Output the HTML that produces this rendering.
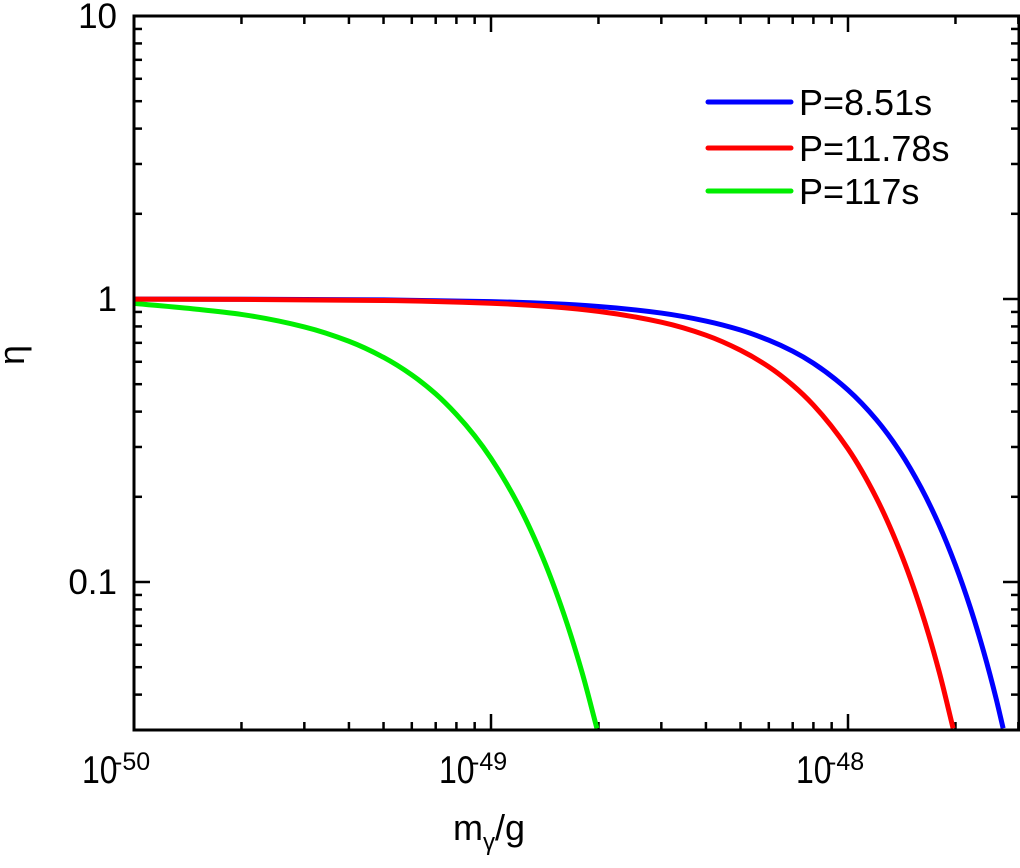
<!DOCTYPE html>
<html><head><meta charset="utf-8">
<style>
html,body{margin:0;padding:0;background:#fff;}
svg{display:block;font-family:"Liberation Sans",Arial,sans-serif;}
</style></head>
<body>
<svg id="chart" width="1020" height="868" viewBox="0 0 1020 868" xmlns="http://www.w3.org/2000/svg">
<g id="ticks"></g>
<g id="series"></g>
<rect x="134" y="16" width="885" height="714" fill="none" stroke="#000" stroke-width="3"/>
<g id="labels"></g>
<text x="453" y="840" font-size="36">m<tspan font-size="24" dy="10">γ</tspan><tspan dy="-10">/g</tspan></text>
<text transform="translate(24,355) rotate(-90)" text-anchor="middle" font-size="36">η</text>
<g id="legend"></g>
</svg>
<script>
const xTickExps = [-50, -49, -48];
const yTickVals = [10, 1, 0.1];
const yTickLabels = ["10", "1", "0.1"];
const seriesNames = ["P=8.51s", "P=11.78s", "P=117s"];
const seriesColors = ["#0000ff", "#ff0000", "#00ee00"];
const massBlue = [1e-50, 2e-50, 5e-50, 1e-49, 1.5e-49, 2e-49, 3e-49, 4e-49, 5e-49, 6e-49, 7e-49, 8e-49, 1e-48, 1.2e-48, 1.4e-48, 1.6e-48, 1.8e-48, 2e-48, 2.2e-48, 2.4e-48, 2.6e-48, 2.72e-48];
const etaBlue  = [0.999, 0.998, 0.993, 0.979, 0.962, 0.941, 0.892, 0.836, 0.777, 0.715, 0.654, 0.593, 0.477, 0.375, 0.288, 0.216, 0.159, 0.1147, 0.0813, 0.0566, 0.0387, 0.0304];
const massRed = [1e-50, 2e-50, 5e-50, 1e-49, 1.5e-49, 2e-49, 3e-49, 4e-49, 5e-49, 6e-49, 7e-49, 8e-49, 1e-48, 1.2e-48, 1.4e-48, 1.6e-48, 1.8e-48, 1.97e-48];
const etaRed  = [0.999, 0.997, 0.988, 0.966, 0.938, 0.904, 0.828, 0.745, 0.659, 0.576, 0.496, 0.422, 0.2955, 0.1985, 0.1282, 0.080, 0.0482, 0.0304];
const massGreen = [1e-50, 1.5e-50, 2e-50, 3e-50, 4e-50, 5e-50, 6e-50, 7e-50, 8e-50, 9e-50, 1e-49, 1.2e-49, 1.4e-49, 1.6e-49, 1.8e-49, 1.98e-49];
const etaGreen  = [0.965, 0.92, 0.882, 0.797, 0.709, 0.622, 0.539, 0.462, 0.391, 0.3286, 0.2734, 0.1847, 0.121, 0.077, 0.0478, 0.0304];

const NS = "http://www.w3.org/2000/svg";
const X0 = 134, X1 = 1019, Y0 = 16, Y1 = 730;
const xMinLog = -50, pxPerDecX = 357;
const yTopLog = 1, pxPerDecY = 283;
function xScale(m){ return X0 + (Math.log10(m) - xMinLog) * pxPerDecX; }
function yScale(v){ return Y0 + (yTopLog - Math.log10(v)) * pxPerDecY; }
function mk(tag, attrs, parent){ const e = document.createElementNS(NS, tag); for (const k in attrs) e.setAttribute(k, attrs[k]); parent.appendChild(e); return e; }

const ticks = document.getElementById('ticks');
for (let d = -50; d <= -48; d++) {
  for (let k = 1; k <= 9; k++) {
    const x = xScale(k * Math.pow(10, d));
    if (x < X0 - 0.5 || x > X1) continue;
    const len = k === 1 ? 16 : 8;
    const t1 = mk('line', {x1: x, x2: x, y1: Y1, y2: Y1 - len, stroke: '#000', 'stroke-width': 2.5}, ticks);
    
    
    const t2 = mk('line', {x1: x, x2: x, y1: Y0, y2: Y0 + len, stroke: '#000', 'stroke-width': 2.5}, ticks);
    
    
  }
}
for (let d = -2; d <= 0; d++) {
  for (let k = 1; k <= 9; k++) {
    const v = k * Math.pow(10, d);
    const y = yScale(v);
    if (y < Y0 || y > Y1) continue;
    const len = k === 1 ? 16 : 8;
    const t1 = mk('line', {x1: X0, x2: X0 + len, y1: y, y2: y, stroke: '#000', 'stroke-width': 2.5}, ticks);
    
    
    const t2 = mk('line', {x1: X1, x2: X1 - len, y1: y, y2: y, stroke: '#000', 'stroke-width': 2.5}, ticks);
    
    
  }
}

const labels = document.getElementById('labels');
xTickExps.forEach(e => {
  const x = xScale(Math.pow(10, e));
  const t = mk('text', {x: x - 52, y: 783, 'font-size': 39, transform: `translate(${x - 52},0) scale(0.82,1) translate(${-(x - 52)},0)`}, labels);
  
  
  t.textContent = '10';
  const s = mk('text', {x: x - 20, y: 770, 'font-size': 25}, labels);
  
  
  s.textContent = String(e);
});
yTickVals.forEach((v, i) => {
  const y = yScale(v);
  const t = mk('text', {x: 117, y: y + 12, 'font-size': 35, 'text-anchor': 'end'}, labels);
  
  
  t.textContent = yTickLabels[i];
});

function monotonePath(pts){
  const n = pts.length;
  const dx = [], sl = [];
  for (let i = 0; i < n - 1; i++) { dx.push(pts[i+1][0] - pts[i][0]); sl.push((pts[i+1][1] - pts[i][1]) / dx[i]); }
  const m = new Array(n);
  m[0] = sl[0]; m[n-1] = sl[n-2];
  for (let i = 1; i < n - 1; i++) {
    if (sl[i-1] * sl[i] <= 0) m[i] = 0;
    else { const w1 = 2*dx[i] + dx[i-1], w2 = dx[i] + 2*dx[i-1]; m[i] = (w1 + w2) / (w1 / sl[i-1] + w2 / sl[i]); }
  }
  let d = `M${pts[0][0]},${pts[0][1]}`;
  for (let i = 0; i < n - 1; i++) {
    const h = dx[i] / 3;
    d += ` C${pts[i][0] + h},${pts[i][1] + m[i]*h} ${pts[i+1][0] - h},${pts[i+1][1] - m[i+1]*h} ${pts[i+1][0]},${pts[i+1][1]}`;
  }
  return d;
}

const series = document.getElementById('series');
const allMass = [massBlue, massRed, massGreen];
const allEta = [etaBlue, etaRed, etaGreen];
const seriesKeys = ['blue', 'red', 'green'];
[0, 2, 1].forEach(i => {
  const pts = allMass[i].map((m, j) => [xScale(m), yScale(allEta[i][j])]);
  const p = mk('path', {d: monotonePath(pts), fill: 'none', stroke: seriesColors[i], 'stroke-width': 5, 'stroke-linejoin': 'round'}, series);
  
  
});

const legend = document.getElementById('legend');
const legendY = [102, 148, 191];
seriesNames.forEach((n, i) => {
  const l = mk('line', {x1: 708, x2: 791, y1: legendY[i], y2: legendY[i], stroke: seriesColors[i], 'stroke-width': 5, 'stroke-linecap': 'round'}, legend);
  
  
  const t = mk('text', {x: 799, y: legendY[i] + 13, 'font-size': 36}, legend);
  
  
  t.textContent = n;
});
</script>
</body></html>
